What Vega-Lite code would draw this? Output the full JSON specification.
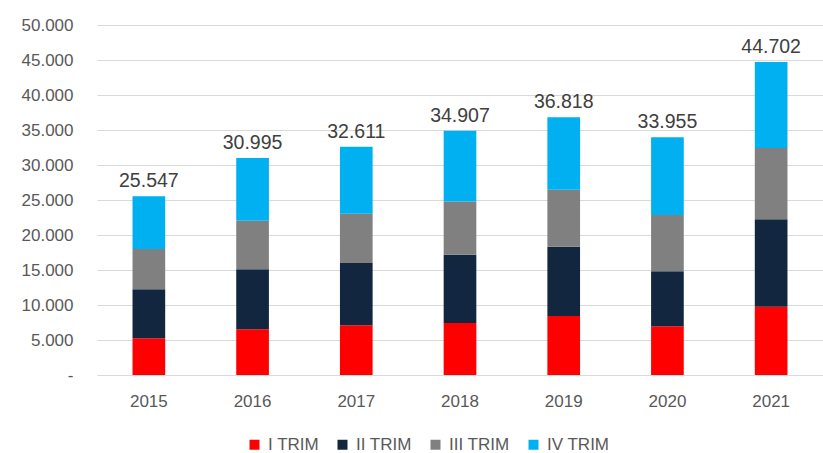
{
  "$schema": "https://vega.github.io/schema/vega-lite/v6.json",
  "width": 726,
  "height": 350,
  "autosize": {"type": "none"},
  "padding": {"left": 97, "top": 25, "right": 0, "bottom": 78},
  "background": "white",
  "config": {
    "view": {"stroke": null},
    "font": "Liberation Sans",
    "locale": {"number": {"decimal": ",", "thousands": ".", "grouping": [3], "currency": ["", " €"]}},
    "axis": {"labelFont": "Liberation Sans", "labelColor": "#595959", "labelFontSize": 17}
  },
  "data": {
    "values": [
      {"year": "2015", "trim": "I TRIM", "value": 5240},
      {"year": "2015", "trim": "II TRIM", "value": 7000},
      {"year": "2015", "trim": "III TRIM", "value": 5760},
      {"year": "2015", "trim": "IV TRIM", "value": 7547},
      {"year": "2016", "trim": "I TRIM", "value": 6530},
      {"year": "2016", "trim": "II TRIM", "value": 8570},
      {"year": "2016", "trim": "III TRIM", "value": 6950},
      {"year": "2016", "trim": "IV TRIM", "value": 8945},
      {"year": "2017", "trim": "I TRIM", "value": 7100},
      {"year": "2017", "trim": "II TRIM", "value": 8900},
      {"year": "2017", "trim": "III TRIM", "value": 7050},
      {"year": "2017", "trim": "IV TRIM", "value": 9561},
      {"year": "2018", "trim": "I TRIM", "value": 7430},
      {"year": "2018", "trim": "II TRIM", "value": 9760},
      {"year": "2018", "trim": "III TRIM", "value": 7610},
      {"year": "2018", "trim": "IV TRIM", "value": 10107},
      {"year": "2019", "trim": "I TRIM", "value": 8430},
      {"year": "2019", "trim": "II TRIM", "value": 9900},
      {"year": "2019", "trim": "III TRIM", "value": 8140},
      {"year": "2019", "trim": "IV TRIM", "value": 10348},
      {"year": "2020", "trim": "I TRIM", "value": 6950},
      {"year": "2020", "trim": "II TRIM", "value": 7860},
      {"year": "2020", "trim": "III TRIM", "value": 8050},
      {"year": "2020", "trim": "IV TRIM", "value": 11095},
      {"year": "2021", "trim": "I TRIM", "value": 9760},
      {"year": "2021", "trim": "II TRIM", "value": 12480},
      {"year": "2021", "trim": "III TRIM", "value": 10190},
      {"year": "2021", "trim": "IV TRIM", "value": 12272}
    ]
  },
  "encoding": {
    "x": {
      "field": "year",
      "type": "nominal",
      "scale": {"paddingInner": 0.685, "paddingOuter": 0.3425},
      "axis": {
        "title": null,
        "labelAngle": 0,
        "ticks": false,
        "domainColor": "#d9d9d9",
        "domainWidth": 1,
        "labelPadding": 18
      }
    },
    "y": {
      "field": "value",
      "type": "quantitative",
      "aggregate": "sum",
      "scale": {"domain": [0, 50000]},
      "axis": {
        "title": null,
        "values": [0, 5000, 10000, 15000, 20000, 25000, 30000, 35000, 40000, 45000, 50000],
        "tickCount": 11,
        "format": ",.0f",
        "ticks": false,
        "domain": false,
        "gridColor": "#d9d9d9",
        "gridWidth": 1,
        "labelPadding": 24,
        "labelOverlap": false,
        "labelFlush": false,
        "labelExpr": "datum.value == 0 ? '-\u00a0\u00a0' : datum.label"
      }
    }
  },
  "layer": [
    {
      "mark": {"type": "bar"},
      "encoding": {
        "color": {
          "field": "trim",
          "type": "nominal",
          "scale": {
            "domain": ["I TRIM", "II TRIM", "III TRIM", "IV TRIM"],
            "range": ["#ff0000", "#12263f", "#808080", "#00b0f0"]
          },
          "legend": {
            "title": null,
            "orient": "none",
            "direction": "horizontal",
            "columns": 4,
            "gridAlign": "each",
            "legendX": 149,
            "legendY": 411,
            "symbolType": "square",
            "symbolSize": 100,
            "symbolStrokeWidth": 0,
            "labelFontSize": 17,
            "labelColor": "#595959",
            "labelFont": "Liberation Sans",
            "labelOffset": 5,
            "columnPadding": 15
          }
        },
        "order": {"field": "trim", "sort": "ascending"}
      }
    },
    {
      "mark": {"type": "text", "baseline": "alphabetic", "dy": -9, "fontSize": 19.5, "color": "#404040", "font": "Liberation Sans"},
      "encoding": {
        "text": {"field": "value", "type": "quantitative", "aggregate": "sum", "format": ",.0f"}
      }
    }
  ]
}
